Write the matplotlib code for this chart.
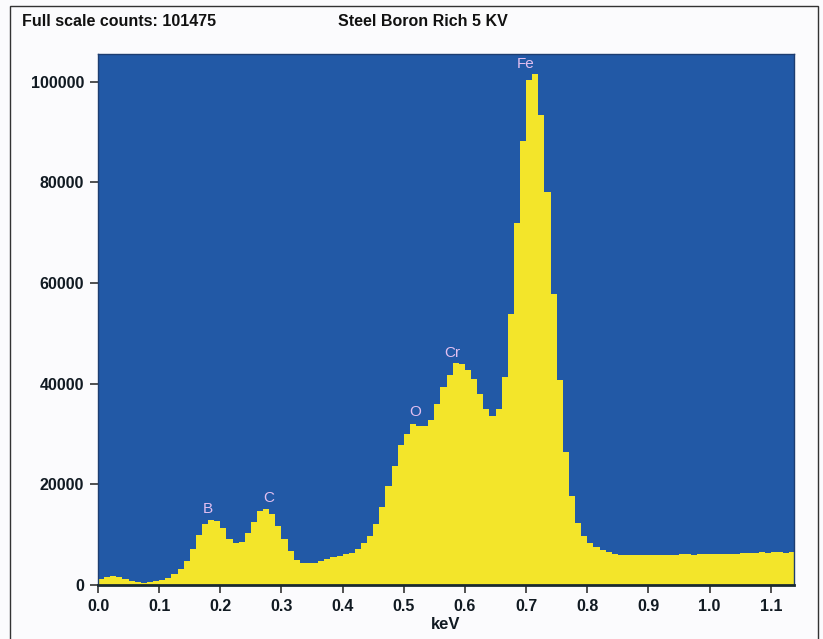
import matplotlib.pyplot as plt
import matplotlib.patches as mpatches
import numpy as np

# EDS spectrum, 10 eV channels starting at 0 keV
channel_kev = 0.01
counts = [
    1150, 1500, 1700, 1600, 1200, 850, 600, 450, 550, 750,
    950, 1300, 2100, 3100, 4800, 7100, 9900, 12100, 12950, 12750,
    11300, 9200, 8300, 8500, 10300, 12500, 14700, 15100, 14150, 11750,
    9200, 6850, 5050, 4400, 4400, 4450, 4700, 5100, 5500, 5800,
    6100, 6450, 7250, 8400, 9800, 12100, 15400, 19600, 23700, 27800,
    30000, 32000, 31500, 31600, 32700, 35900, 39400, 41800, 44100, 44000,
    42800, 41000, 38000, 35000, 33500, 35000, 41300, 53900, 72000, 88200,
    100400, 101475, 93300, 78000, 57800, 40700, 26400, 17600, 12400, 9800,
    8400, 7600, 7000, 6600, 6200, 6000, 5900, 5900, 6000, 5950,
    6000, 6050, 6000, 6000, 6050, 6100, 6100, 6050, 6100, 6150,
    6100, 6150, 6150, 6200, 6200, 6350, 6400, 6350, 6500, 6400,
    6500, 6500, 6450, 6500,
]

# element labels (keV, counts)
peak_names = ['B', 'C', 'O', 'Cr', 'Fe']
peak_kev = [0.180, 0.279, 0.518, 0.580, 0.700]
peak_label_y = [15100, 17300, 34300, 46100, 103600]

x_ticks = [0.0, 0.1, 0.2, 0.3, 0.4, 0.5, 0.6, 0.7, 0.8, 0.9, 1.0, 1.1]
y_ticks = [0, 20000, 40000, 60000, 80000, 100000]

full_scale = max(counts)
title_text = 'Steel Boron Rich 5 KV'

blue = '#2259a6'
yellow = '#f3e52a'
bold_font = ['Liberation Sans Narrow', 'Liberation Sans', 'DejaVu Sans']

fig = plt.figure(figsize=(8.23, 6.39), dpi=100)
fig.patch.set_facecolor('#fbfbfd')
W, H = 823, 639

# outer frame
fig.patches.append(mpatches.Rectangle((10 / W, -0.01), 808 / W, 1 - 6 / H + 0.01,
                                      transform=fig.transFigure, fill=False,
                                      edgecolor='#333333', linewidth=1.0))

ax = fig.add_axes([98 / W, 1 - 585 / H, 696 / W, 531 / H])
ax.set_facecolor(blue)

edges = np.arange(len(counts) + 1) * channel_kev
ax.stairs(counts, edges, fill=True, color=yellow, baseline=0)

for name, x, y in zip(peak_names, peak_kev, peak_label_y):
    ax.text(x, y, name, color='#e2bff0', fontsize=11, ha='center', va='center',
            family=['Liberation Sans', 'DejaVu Sans'])

ax.set_xlim(0, 1.138)
ax.set_ylim(0, 105500)
ax.set_xticks(x_ticks)
ax.set_xticklabels(['%.1f' % t for t in x_ticks])
ax.set_yticks(y_ticks)
ax.set_yticklabels([str(t) for t in y_ticks])
for lab in ax.get_xticklabels() + ax.get_yticklabels():
    lab.set_family(bold_font)
    lab.set_fontweight('bold')
    lab.set_fontsize(11.5)
    lab.set_color('#111a22')
ax.tick_params(direction='out', length=6, width=1.2, color='#333333', pad=4)

for side in ['left', 'top', 'right']:
    ax.spines[side].set_color('#1d3d70')
    ax.spines[side].set_linewidth(1.0)
ax.spines['bottom'].set_color('#1a2a30')
ax.spines['bottom'].set_linewidth(2.0)

ax.set_xlabel('keV', family=bold_font, fontweight='bold', fontsize=12,
              color='#111a22', labelpad=2)

fig.text(22 / W, 1 - 22 / H, 'Full scale counts: %d' % full_scale,
         family=bold_font, fontweight='bold', fontsize=11.5, va='center',
         color='#111111')
fig.text(338 / W, 1 - 22 / H, title_text, family=bold_font, fontweight='bold',
         fontsize=11.5, va='center', color='#111111')

fig.savefig('out.png', dpi=100, facecolor=fig.get_facecolor())
